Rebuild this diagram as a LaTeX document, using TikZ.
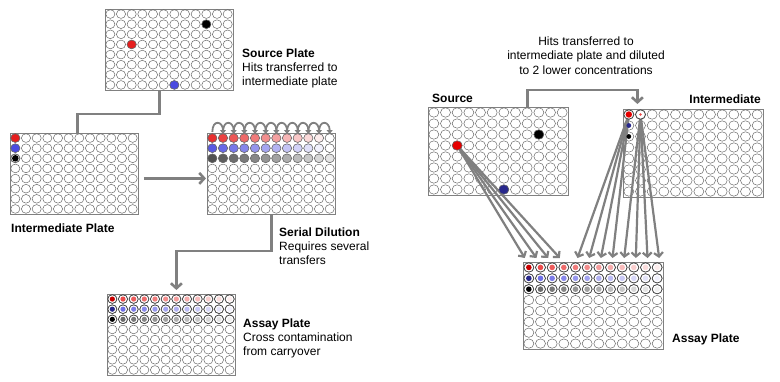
\documentclass[tikz,border=0pt]{standalone}
\usepackage{fontspec}
\setmainfont{Liberation Sans}
\usetikzlibrary{arrows.meta,calc}
\definecolor{cg}{RGB}{128,128,128}
\definecolor{wl}{RGB}{105,105,105}
\definecolor{hred}{RGB}{230,30,30}
\definecolor{dred}{RGB}{200,0,0}
\definecolor{hblue}{RGB}{75,75,225}
\definecolor{hnavy}{RGB}{40,40,140}
\definecolor{hgrey}{RGB}{70,70,70}
\newcommand\mkplate[5]{%
  \node[plate, minimum width=#4pt, minimum height=#5pt, anchor=north west] (#1) at (#2,#3) {};
  \foreach \cc in {1,...,12}{\foreach \rr in {1,...,8}{%
    \coordinate (#1-\cc-\rr) at ({#2+(\cc-0.5)*#4/12},{#3+(\rr-0.5)*#5/8});
    \draw[well] (#1-\cc-\rr) ellipse [x radius={0.43*#4/12}, y radius={0.43*#5/8}];
  }}}
\begin{document}
\begin{tikzpicture}[x=1pt,y=-1pt,
  plate/.style={draw=cg, line width=0.8pt, inner sep=0pt},
  well/.style={draw=wl, line width=0.5pt},
  conn/.style={draw=cg, line width=2.6pt},
  connarr/.style={conn, -{Straight Barb[length=5pt,width=11pt]}},
  arr/.style={draw=cg, line width=2.2pt, -{Straight Barb[length=4pt,width=9pt]}},
  hook/.style={draw=cg, line width=1.8pt, -{Triangle[length=4pt,width=6pt]}},
  ring/.style={draw=hgrey, line width=0.65pt},
  lbl/.style={anchor=north west, inner sep=0pt, align=left, font=\fontsize{12}{14}\selectfont},
]
\useasboundingbox (0,0) rectangle (780,381);

% ---------- plates ----------
\mkplate{srcL}{105}{9}{128}{81}
\mkplate{intL}{10}{133}{128}{81}
\mkplate{serL}{207}{133}{128}{81}
\mkplate{assL}{107}{294}{128}{81}
\mkplate{srcR}{428}{107}{140}{88}
\mkplate{intR}{623}{109}{140}{88}
\mkplate{assR}{523}{262}{140}{87}

% ---------- left source hits ----------
\filldraw[draw=wl, line width=0.5pt, fill=hred] (srcL-3-4) ellipse [x radius=4.6, y radius=4.35];
\filldraw[draw=wl, line width=0.5pt, fill=black] (srcL-10-2) ellipse [x radius=4.6, y radius=4.35];
\filldraw[draw=wl, line width=0.5pt, fill=hblue] (srcL-7-8) ellipse [x radius=4.6, y radius=4.35];

% ---------- left intermediate ----------
\filldraw[draw=wl, line width=0.5pt, fill=hred] (intL-1-1) ellipse [x radius=4.6, y radius=4.35];
\filldraw[draw=wl, line width=0.5pt, fill=hblue] (intL-1-2) ellipse [x radius=4.6, y radius=4.35];
\draw[draw=wl, line width=0.8pt] (intL-1-3) ellipse [x radius=4.6, y radius=4.35];
\fill[black] (intL-1-3) circle [radius=3.3];

% ---------- serial dilution ----------
\foreach \cc in {1,...,12}{%
  \pgfmathtruncatemacro\pc{round(92*(12-\cc)/11)}
  \pgfmathtruncatemacro\pk{round(14+80*(12-\cc)/11)}
  \filldraw[draw=wl, line width=0.5pt, fill=hred!\pc!white] (serL-\cc-1) ellipse [x radius=4.6, y radius=4.35];
  \filldraw[draw=wl, line width=0.5pt, fill=hblue!\pc!white] (serL-\cc-2) ellipse [x radius=4.6, y radius=4.35];
  \filldraw[draw=wl, line width=0.5pt, fill=hgrey!\pk!white] (serL-\cc-3) ellipse [x radius=4.6, y radius=4.35];
}
\foreach \cc in {1,...,11}{%
  \pgfmathtruncatemacro\nn{\cc+1}
  \draw[hook] ($(serL-\cc-1 |- serL.north)+(0,-1)$) .. controls +(0,-13) and +(0,-13) .. ($(serL-\nn-1 |- serL.north)+(0,1)$);
}

% ---------- left assay ----------
\foreach \cc in {1,...,12}{%
  \draw[ring] (assL-\cc-1) ellipse [x radius=4.6, y radius=4.35];
  \draw[ring] (assL-\cc-2) ellipse [x radius=4.6, y radius=4.35];
  \draw[ring] (assL-\cc-3) ellipse [x radius=4.6, y radius=4.35];
}
\fill[dred] (assL-1-1) circle [radius=2.6];
\fill[hnavy] (assL-1-2) circle [radius=2.6];
\fill[black] (assL-1-3) circle [radius=2.6];
\foreach \cc in {2,...,12}{%
  \pgfmathtruncatemacro\pc{round(8+72*(12-\cc)/10)}
  \fill[hred!\pc!white] (assL-\cc-1) circle [radius=2.6];
  \fill[hblue!\pc!white] (assL-\cc-2) circle [radius=2.6];
  \fill[hgrey!\pc!white] (assL-\cc-3) circle [radius=2.6];
}

% ---------- left connectors ----------
\draw[conn] ([xshift=-10pt]srcL.south) -- ++(0,23) -| ([xshift=3pt]intL.north);
\draw[connarr] ([xshift=5pt,yshift=-4.5pt]intL.east) -- ([xshift=-1pt,yshift=-4.5pt]serL.west);
\draw[connarr] (serL.south) -- ++(0,36) -| ([xshift=5pt,yshift=4pt]assL.north);

% ---------- left labels ----------
\node[lbl] (tSrcL) at (242,48.2) {\textbf{Source Plate}\\Hits transferred to\\intermediate plate};
\node[lbl] (tIntL) at (11,223.2) {\textbf{Intermediate Plate}};
\node[lbl] (tSerL) at (279,227.2) {\textbf{Serial Dilution}\\Requires several\\transfers};
\node[lbl] (tAssL) at (243,318.2) {\textbf{Assay Plate}\\Cross contamination\\from carryover};

% ---------- right plate: assay contents ----------
\foreach \cc in {1,...,12}{%
  \draw[ring] (assR-\cc-1) ellipse [x radius=5.0, y radius=4.7];
  \draw[ring] (assR-\cc-2) ellipse [x radius=5.0, y radius=4.7];
  \draw[ring] (assR-\cc-3) ellipse [x radius=5.0, y radius=4.7];
}
\fill[dred] (assR-1-1) circle [radius=2.8];
\fill[hnavy] (assR-1-2) circle [radius=2.8];
\fill[black] (assR-1-3) circle [radius=2.8];
\foreach \cc in {2,...,12}{%
  \pgfmathtruncatemacro\pc{round(8+72*(12-\cc)/10)}
  \fill[hred!\pc!white] (assR-\cc-1) circle [radius=2.8];
  \fill[hblue!\pc!white] (assR-\cc-2) circle [radius=2.8];
  \fill[hgrey!\pc!white] (assR-\cc-3) circle [radius=2.8];
}

% ---------- right arrows ----------
\foreach \cc in {1,...,4}{%
  \draw[arr] (srcR-3-4) -- ($(assR-\cc-1 |- assR.north)+(-4,-4)$);
}
\foreach \cc/\sc in {5/1,6/1,7/1,8/1,9/2,10/2,11/2,12/2}{%
  \draw[arr] (intR-\sc-1) -- ($(assR-\cc-1 |- assR.north)+(2,-4)$);
}
\draw[connarr] ([xshift=29pt]srcR.north) -- ++(0,-17) -| ([xshift=-56pt,yshift=5pt]intR.north);

% ---------- right hits on top ----------
\filldraw[draw=wl, line width=0.5pt, fill=red!90!black] (srcR-3-4) ellipse [x radius=5.0, y radius=4.7];
\filldraw[draw=wl, line width=0.5pt, fill=black] (srcR-10-3) ellipse [x radius=5.0, y radius=4.7];
\filldraw[draw=wl, line width=0.5pt, fill=hnavy] (srcR-7-8) ellipse [x radius=5.0, y radius=4.7];
\filldraw[draw=hgrey, line width=0.8pt, fill=white] (intR-1-1) ellipse [x radius=5.0, y radius=4.7];
\fill[red!90!black] (intR-1-1) circle [radius=3.2];
\filldraw[draw=hgrey, line width=0.8pt, fill=white] (intR-2-1) ellipse [x radius=5.0, y radius=4.7];
\fill[hred!80!white] (intR-2-1) circle [radius=1.4];
\fill[hnavy] (intR-1-2) circle [radius=2.4];
\fill[black] (intR-1-3) circle [radius=2.4];

% ---------- right labels ----------
\node[lbl, anchor=north, align=center, font=\fontsize{12}{14.5}\selectfont] (tTop) at (586,36.2) {Hits transferred to\\intermediate plate and diluted\\to 2 lower concentrations};
\node[lbl] (tSrcR) at (432,94.2) {\textbf{Source}};
\node[lbl, anchor=north east] (tIntR) at (761,94.2) {\textbf{Intermediate}};
\node[lbl] (tAssR) at (672,333.2) {\textbf{Assay Plate}};
\end{tikzpicture}
\end{document}
